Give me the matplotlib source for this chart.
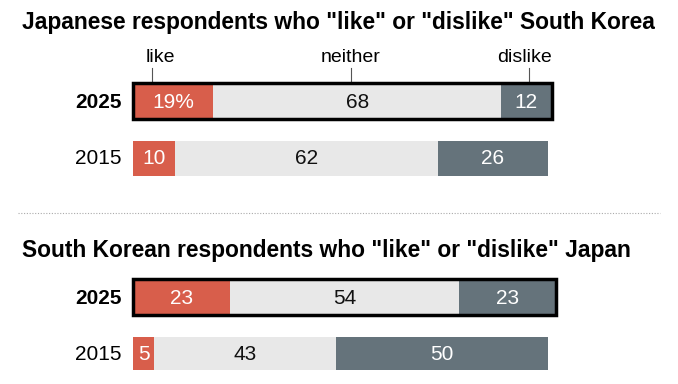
import matplotlib.pyplot as plt
from matplotlib.patches import Rectangle

# data
categories = ['like', 'neither', 'dislike']
years = ['2025', '2015']
japan_vals = {'2025': [19, 68, 12], '2015': [10, 62, 26]}
korea_vals = {'2025': [23, 54, 23], '2015': [5, 43, 50]}
titles = ['Japanese respondents who "like" or "dislike" South Korea',
          'South Korean respondents who "like" or "dislike" Japan']

colors = ['#d85e4b', '#e8e8e8', '#65737b']
text_colors = ['white', '#111111', 'white']

plt.rcParams['font.family'] = ['Liberation Sans', 'DejaVu Sans']

fig = plt.figure(figsize=(6.78, 3.84), dpi=100)
ax = fig.add_axes([0, 0, 1, 1])
# one data unit = 1 percent, 4.23 px; bars start at px 133
px = 4.23
ax.set_xlim(-133 / px, (678 - 133) / px)
ax.set_ylim(384, 0)
ax.axis('off')

title_y = [22, 250]
bar_y = [[101, 158], [297, 353]]
bar_h = [[36, 35], [36, 33]]

for p, (vals, title) in enumerate(zip([japan_vals, korea_vals], titles)):
    ax.text(-111 / px, title_y[p], title, fontsize=16.4, fontweight='bold',
            va='center', ha='left')
    for r, yr in enumerate(years):
        y = bar_y[p][r]
        h = bar_h[p][r]
        left = 0
        for i, v in enumerate(vals[yr]):
            ax.barh(y, v, left=left, height=h, color=colors[i], edgecolor='none')
            lab = str(v)
            if p == 0 and r == 0 and i == 0:
                lab = f'{v}%'
            ax.text(left + v / 2, y + 1, lab, ha='center', va='center',
                    fontsize=15, color=text_colors[i])
            left += v
        if r == 0:
            ax.add_patch(Rectangle((0, y - h / 2), left, h, fill=False,
                                   edgecolor='black', linewidth=2.5, zorder=5))
        ax.text(-11 / px, y + 1, yr, ha='right', va='center', fontsize=15,
                fontweight='bold' if r == 0 else 'normal')

# category labels above the first bar
first = japan_vals['2025']
lab_x = [6.5, first[0] + first[1] / 2 - 1.5, first[0] + first[1] + 5.5]
tick_x = [4.5, first[0] + first[1] / 2 - 1.5, first[0] + first[1] + 6.5]
for c, x, tx in zip(categories, lab_x, tick_x):
    ax.text(x, 57, c, ha='center', va='center', fontsize=14)
    ax.plot([tx, tx], [68, 82], color='#555555', linewidth=0.8)

# dotted separator
ax.plot([-115 / px, 660 / px - 133 / px], [213, 213], color='#aaaaaa',
        linestyle=(0, (1, 1.5)), linewidth=0.8)

fig.savefig('out.png', dpi=100)
